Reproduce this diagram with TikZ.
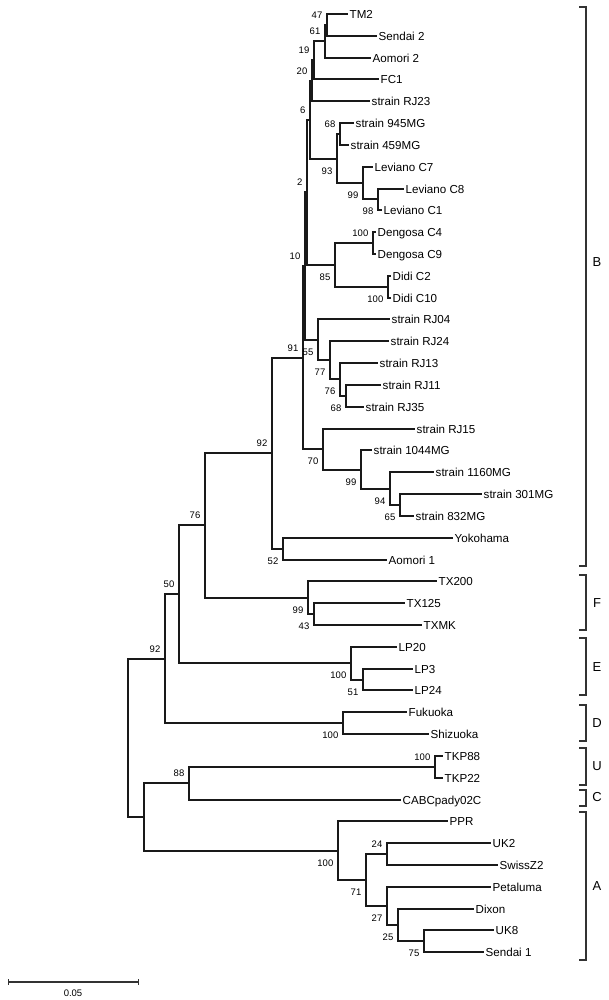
\documentclass[tikz,border=0pt]{standalone}
\usepackage{fontspec}
\setmainfont{Liberation Sans}
\begin{document}
\begin{tikzpicture}[x=1pt,y=-1pt,
  br/.style={line width=1.5pt, draw=black!90, line cap=rect},
  leaf/.style={anchor=west, inner xsep=2.5pt, inner ysep=0pt, text height=8.3pt, text depth=0pt, font=\fontsize{11.6}{12}\selectfont},
  bsu/.style={anchor=south east, inner sep=0pt, text height=6.8pt, text depth=0pt, font=\fontsize{9.5}{10}\selectfont, xshift=-4.5pt, yshift=6.5pt},
  bsl/.style={anchor=north east, inner sep=0pt, text height=6.8pt, text depth=0pt, font=\fontsize{9.5}{10}\selectfont, xshift=-4.5pt, yshift=-8.5pt},
  brk/.style={line width=1.2pt, draw=black!80},
  grp/.style={inner sep=0pt, font=\fontsize{13}{14}\selectfont},
]
\fill[white] (0,0) rectangle (608,1000);
\path[use as bounding box] (0,0) rectangle (608,1000);

% leaves
\node[leaf] (TM2) at (347,14) {TM2};
\node[leaf] (Sen2) at (376,36) {Sendai 2};
\node[leaf] (Aom2) at (370,58) {Aomori 2};
\node[leaf] (FC1) at (378,79) {FC1};
\node[leaf] (RJ23) at (369,101) {strain RJ23};
\node[leaf] (M945) at (353,123) {strain 945MG};
\node[leaf] (M459) at (348,145) {strain 459MG};
\node[leaf] (LevC7) at (372,167) {Leviano C7};
\node[leaf] (LevC8) at (403,189) {Leviano C8};
\node[leaf] (LevC1) at (381,210) {Leviano C1};
\node[leaf] (DenC4) at (375,232) {Dengosa C4};
\node[leaf] (DenC9) at (375,254) {Dengosa C9};
\node[leaf] (DidiC2) at (390,276) {Didi C2};
\node[leaf] (DidiC10) at (390,298) {Didi C10};
\node[leaf] (RJ04) at (389,319) {strain RJ04};
\node[leaf] (RJ24) at (388,341) {strain RJ24};
\node[leaf] (RJ13) at (377,363) {strain RJ13};
\node[leaf] (RJ11) at (380,385) {strain RJ11};
\node[leaf] (RJ35) at (363,407) {strain RJ35};
\node[leaf] (RJ15) at (414,429) {strain RJ15};
\node[leaf] (M1044) at (371,450) {strain 1044MG};
\node[leaf] (M1160) at (433,472) {strain 1160MG};
\node[leaf] (M301) at (481,494) {strain 301MG};
\node[leaf] (M832) at (413,516) {strain 832MG};
\node[leaf] (Yoko) at (452,538) {Yokohama};
\node[leaf] (Aom1) at (386,560) {Aomori 1};
\node[leaf] (TX200) at (436,581) {TX200};
\node[leaf] (TX125) at (404,603) {TX125};
\node[leaf] (TXMK) at (421,625) {TXMK};
\node[leaf] (LP20) at (396,647) {LP20};
\node[leaf] (LP3) at (412,669) {LP3};
\node[leaf] (LP24) at (412,690) {LP24};
\node[leaf] (Fuku) at (406,712) {Fukuoka};
\node[leaf] (Shiz) at (428,734) {Shizuoka};
\node[leaf] (TKP88) at (442,756) {TKP88};
\node[leaf] (TKP22) at (442,778) {TKP22};
\node[leaf] (CABC) at (400,800) {CABCpady02C};
\node[leaf] (PPR) at (447,821) {PPR};
\node[leaf] (UK2) at (490,843) {UK2};
\node[leaf] (Swiss) at (497,865) {SwissZ2};
\node[leaf] (Petal) at (490,887) {Petaluma};
\node[leaf] (Dixon) at (473,909) {Dixon};
\node[leaf] (UK8) at (493,930) {UK8};
\node[leaf] (Sen1) at (483,952) {Sendai 1};

% internal nodes
\coordinate (a47) at (327,25);
\coordinate (a61) at (325,41);
\coordinate (a19) at (314,60);
\coordinate (a20) at (312,81);
\coordinate (a68) at (340,134);
\coordinate (a98) at (378,199);
\coordinate (a99L) at (363,183);
\coordinate (a93) at (337,159);
\coordinate (a6) at (310,120);
\coordinate (aDen) at (373,243);
\coordinate (aDidi) at (388,287);
\coordinate (a85) at (335,265);
\coordinate (a2) at (307,192);
\coordinate (a68b) at (346,396);
\coordinate (a76b) at (340,379);
\coordinate (a77) at (330,360);
\coordinate (a55) at (318,340);
\coordinate (a10) at (305,266);
\coordinate (a65) at (400,505);
\coordinate (a94) at (390,489);
\coordinate (a99M) at (361,470);
\coordinate (a70) at (323,449);
\coordinate (a91) at (303,358);
\coordinate (a52) at (283,549);
\coordinate (a92) at (272,453);
\coordinate (a43) at (314,614);
\coordinate (a99TX) at (308,598);
\coordinate (a76) at (205,525);
\coordinate (a51) at (363,680);
\coordinate (aE) at (351,663);
\coordinate (a50) at (179,594);
\coordinate (aD) at (343,723);
\coordinate (a92r) at (165,659);
\coordinate (aU) at (435,767);
\coordinate (a88) at (189,783);
\coordinate (a24) at (387,854);
\coordinate (a75) at (424,941);
\coordinate (a25) at (398,925);
\coordinate (a27) at (387,906);
\coordinate (a71) at (366,880);
\coordinate (aA) at (338,851);
\coordinate (a144) at (144,817);
\coordinate (root) at (128,738);

% branches
\foreach \p/\c in {a47/TM2.west, a47/Sen2.west, a61/a47, a61/Aom2.west, a19/a61, a19/FC1.west,
  a20/a19, a20/RJ23.west, a68/M945.west, a68/M459.west, a98/LevC8.west, a98/LevC1.west,
  a99L/LevC7.west, a99L/a98, a93/a68, a93/a99L, a6/a20, a6/a93,
  aDen/DenC4.west, aDen/DenC9.west, aDidi/DidiC2.west, aDidi/DidiC10.west, a85/aDen, a85/aDidi,
  a2/a6, a2/a85, a68b/RJ11.west, a68b/RJ35.west, a76b/RJ13.west, a76b/a68b, a77/RJ24.west, a77/a76b,
  a55/RJ04.west, a55/a77, a10/a2, a10/a55, a65/M301.west, a65/M832.west, a94/M1160.west, a94/a65,
  a99M/M1044.west, a99M/a94, a70/RJ15.west, a70/a99M, a91/a10, a91/a70, a52/Yoko.west, a52/Aom1.west,
  a92/a91, a92/a52, a43/TX125.west, a43/TXMK.west, a99TX/TX200.west, a99TX/a43, a76/a92, a76/a99TX,
  a51/LP3.west, a51/LP24.west, aE/LP20.west, aE/a51, a50/a76, a50/aE, aD/Fuku.west, aD/Shiz.west,
  a92r/a50, a92r/aD, aU/TKP88.west, aU/TKP22.west, a88/aU, a88/CABC.west,
  a24/UK2.west, a24/Swiss.west, a75/UK8.west, a75/Sen1.west, a25/Dixon.west, a25/a75,
  a27/Petal.west, a27/a25, a71/a24, a71/a27, aA/PPR.west, aA/a71, a144/a88, a144/aA,
  root/a92r, root/a144}
  \draw[br] (\p) |- (\c);

% bootstrap values
\foreach \n/\v in {a47/47, a61/61, a19/19, a20/20, a6/6, a68/68, a2/2, aDen/100, a10/10, a91/91,
  a92/92, a76/76, a50/50, a92r/92, aU/100, a88/88, a24/24}
  \node[bsu] (l\n) at (\n) {\v};
\foreach \n/\v in {a93/93, a99L/99, a98/98, a85/85, aDidi/100, a55/55, a77/77, a76b/76, a68b/68,
  a70/70, a99M/99, a94/94, a65/65, a52/52, a99TX/99, a43/43, aE/100, a51/51, aD/100, aA/100,
  a71/71, a27/27, a25/25, a75/75}
  \node[bsl] (l\n) at (\n) {\v};

% group brackets
\foreach \t/\b/\ly/\g in {7/566/262/B, 575/630/603/F, 638/695/667/E, 705/741/723/D, 748/785/766/U, 790/806/797/C, 812/960/886/A}{
  \draw[brk] (579,\t) -- (586,\t) -- (586,\b) -- (579,\b);
  \node[grp] (g\g) at (597,\ly) {\g};
}

% scale bar
\coordinate (sbL) at (8,982);
\coordinate (sbR) at (138,982);
\draw[line width=1.2pt, draw=black!80] (sbL) -- (sbR);
\draw[line width=1pt, draw=black!80] (sbL) ++(0,-3) -- ++(0,6);
\draw[line width=1pt, draw=black!80] (sbR) ++(0,-3) -- ++(0,6);
\node[inner sep=0pt, font=\fontsize{9.5}{10}\selectfont] (sbt) at (73,993) {0.05};
\end{tikzpicture}
\end{document}
